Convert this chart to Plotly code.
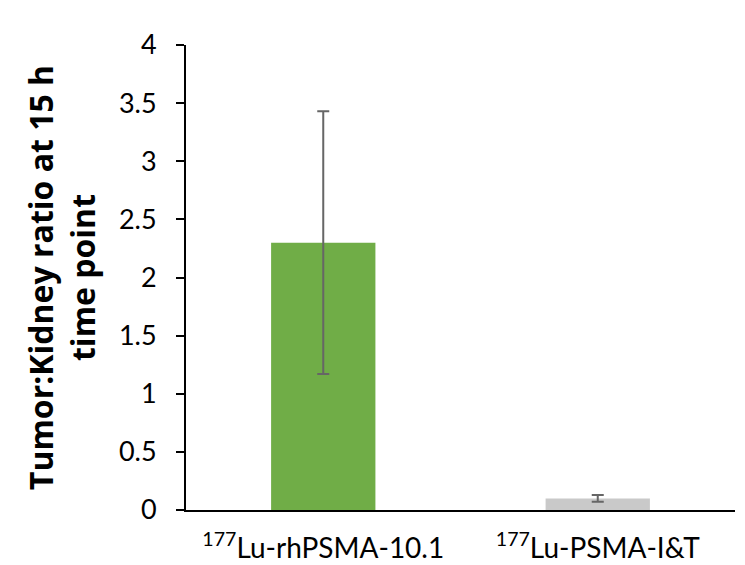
import plotly.graph_objects as go

categories = ["<sup>177</sup>Lu-rhPSMA-10.1", "<sup>177</sup>Lu-PSMA-I&T"]
values = [2.30, 0.10]
errors = [1.13, 0.03]
colors = ["#70AD47", "#C9C9C9"]
y_ticks = [0, 0.5, 1, 1.5, 2, 2.5, 3, 3.5, 4]
y_tick_text = ["0", "0.5", "1", "1.5", "2", "2.5", "3", "3.5", "4"]

fig = go.Figure(go.Bar(
    x=categories, y=values, marker_color=colors, marker_line_width=0,
    error_y=dict(type="data", array=errors, visible=True, color="#666666", thickness=2, width=6),
))

fig.update_layout(
    width=745, height=565,
    margin=dict(l=186, r=10, t=45, b=55),
    plot_bgcolor="white", paper_bgcolor="white",
    bargap=0.62,
    font=dict(family="Lato, Open Sans, sans-serif", color="black", size=24),
    showlegend=False,
)
fig.update_yaxes(
    range=[0, 4], tickvals=y_ticks, ticktext=y_tick_text,
    showline=True, linecolor="black", linewidth=2, ticks="outside", ticklen=8, tickwidth=2, tickcolor="black",
    showgrid=False, zeroline=False, ticklabelstandoff=14, automargin=False,
    title=dict(text="<b>Tumor:Kidney ratio at 15 h<br>time point</b>",
               font=dict(size=32, family="Open Sans, sans-serif"), standoff=14),
    tickfont=dict(size=27),
)
fig.update_xaxes(
    showline=True, linecolor="black", linewidth=2, ticks="", showgrid=False,
    tickfont=dict(size=28), ticklabelstandoff=12, automargin=False,
)

fig.write_html("out.html")
